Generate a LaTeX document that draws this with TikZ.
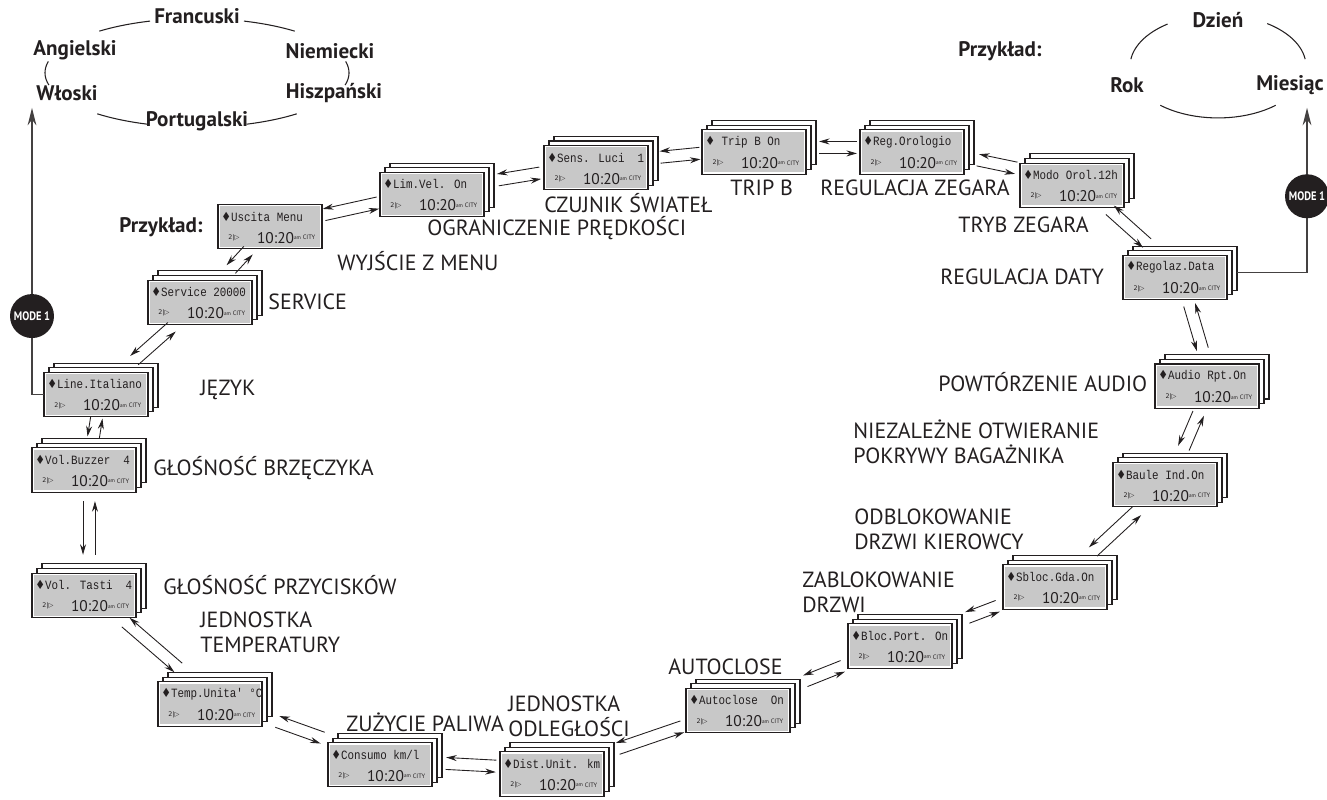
\documentclass[tikz,border=0pt]{standalone}
\usepackage{fontspec}
\setmainfont{PT Sans}
\newfontfamily\lcdfont{Liberation Mono}
\newfontfamily\symfont{DejaVu Sans}
\usetikzlibrary{arrows.meta, calc}
\definecolor{inkblk}{HTML}{231F20}
\definecolor{lcdgray}{HTML}{C8C8C8}

% one display: front card with the stacked sheets behind it
\newcommand{\lcdstack}[5][2]{%
  \begin{scope}[shift={(#3,#4)}]
    \ifnum#1>1\relax \draw[sheet] (-42,-34) rectangle (62,14); \fi
    \ifnum#1>0\relax \draw[sheet] (-47,-29) rectangle (57,19); \fi
    \draw[sheet] (-52,-24) rectangle (52,24);
    \fill[lcdgray] (-50,-22) rectangle (50,22);
    \node[lcdtop] at (-49,-11) {\scalebox{0.86}[1]{{\symfont ♦}#5}};
    \node[lcdtiny] at (-36,12) {{\symfont 2|▷}};
    \node[lcdclock] at (9,12) {10:20\raisebox{2pt}{\fontsize{3}{3}\selectfont am}};
    \node[lcdtiny] at (39,12) {CITY};
    \node[facebox] (#2-face) at (0,0) {};
    \node[stackbox, minimum width={(104+5*#1)*0.02cm},
          minimum height={(48+5*#1)*0.018433cm}] (#2) at ({2.5*#1},{-2.5*#1}) {};
  \end{scope}}

\begin{document}
\begin{tikzpicture}[
    x=0.02cm, y=-0.018433cm,
    >={Stealth[length=6pt, width=3.4pt]},
    every node/.style={text=inkblk},
    sheet/.style={draw=inkblk, line width=0.6pt, fill=white},
    lcdtop/.style={anchor=west, inner sep=0pt, font=\lcdfont\fontsize{7.2}{8}\selectfont},
    lcdtiny/.style={inner sep=0pt, font=\fontsize{3.6}{4}\selectfont},
    lcdclock/.style={inner sep=0pt, font=\fontsize{8.8}{9}\selectfont},
    facebox/.style={minimum width=2.08cm, minimum height=0.885cm, inner sep=0pt},
    stackbox/.style={inner sep=0pt},
    menulbl/.style={anchor=west, align=left, inner sep=0pt,
                    font=\fontsize{12.5}{14.2}\selectfont},
    langlbl/.style={inner sep=0pt, font=\fontsize{12}{13}\selectfont\bfseries},
    ring/.style={draw=inkblk, line width=0.6pt},
    link/.style={->, draw=inkblk, line width=0.5pt},
    modeline/.style={draw=inkblk!85, line width=0.8pt},
    modebadge/.style={circle, fill=inkblk, minimum size=0.88cm, inner sep=0pt,
                      text=white, font=\fontsize{7}{7}\selectfont\bfseries},
  ]

  \useasboundingbox (0,0) rectangle (1327,868);

  % ------------------------------------------------------------
  % language loop (top left)
  % ------------------------------------------------------------
  \node[langlbl] (francuski)   at (197,18)  {Francuski};
  \node[langlbl] (angielski)   at (75,55)   {Angielski};
  \node[langlbl] (niemiecki)   at (330,55)  {Niemiecki};
  \node[langlbl] (wloski)      at (67,101)  {Włoski};
  \node[langlbl] (hiszpanski)  at (334,101) {Hiszpański};
  \node[langlbl] (portugalski) at (197,132) {Portugalski};
  \foreach \s/\e in {108/130, 50/72, 168/193, -13/12, 229/251, 289/311}
    \draw[ring] plot[domain=\s:\e, samples=20] ({197+152*cos(\x)},{79-59*sin(\x)});

  % ------------------------------------------------------------
  % date loop (top right)
  % ------------------------------------------------------------
  \node[langlbl] (przyklad-r) at (1000,55) {Przykład:};
  \node[langlbl] (dzien)   at (1218,22) {Dzień};
  \node[langlbl] (rok)     at (1127,92) {Rok};
  \node[langlbl] (miesiac) at (1290,92) {Miesiąc};
  \foreach \s/\e in {125/172, 8/56, 229/311}
    \draw[ring] plot[domain=\s:\e, samples=20] ({1218+88*cos(\x)},{72-56*sin(\x)});

  \node[langlbl] (przyklad-l) at (161,246) {Przykład:};

  % ------------------------------------------------------------
  % displays, clockwise from the language menu
  % ------------------------------------------------------------
  \lcdstack{line}{96}{428}{Line.Italiano}
  \lcdstack{service}{200}{328}{Service 20000}
  \lcdstack[0]{uscita}{270}{246}{Uscita Menu}
  \lcdstack{limvel}{432}{211}{Lim.Vel. On}
  \lcdstack{sens}{596}{182}{Sens. Luci~~1}
  \lcdstack{trip}{754}{165}{~Trip B On}
  \lcdstack{reg}{912}{165}{Reg.Orologio}
  \lcdstack{modo}{1072}{201}{Modo Orol.12h}
  \lcdstack{resol}{1175}{301}{Regolaz.Data}
  \lcdstack{audio}{1207}{419}{Audio Rpt.On}
  \lcdstack{baule}{1165}{526}{Baule Ind.On}
  \lcdstack{sbloc}{1055}{637}{Sbloc.Gda.On}
  \lcdstack{bloc}{900}{701}{Bloc.Port. On}
  \lcdstack{autoc}{738}{771}{Autoclose~~On}
  \lcdstack{dist}{552}{840}{Dist.Unit. km}
  \lcdstack{consumo}{380}{830}{Consumo km/l}
  \lcdstack{temp}{210}{764}{Temp.Unita' °C}
  \lcdstack{tasti}{84}{646}{Vol. Tasti~~4}
  \lcdstack{buzzer}{84}{510}{Vol.Buzzer~~4}

  % ------------------------------------------------------------
  % labels
  % ------------------------------------------------------------
  \node[menulbl] (t-line)    at (200,423)  {JĘZYK};
  \node[menulbl] (t-service) at (268,327)  {SERVICE};
  \node[menulbl] (t-uscita)  at (337,283)  {WYJŚCIE Z MENU};
  \node[menulbl] (t-limvel)  at (427,248)  {OGRANICZENIE PRĘDKOŚCI};
  \node[menulbl] (t-sens)    at (544,220)  {CZUJNIK ŚWIATEŁ};
  \node[menulbl] (t-trip)    at (730,204)  {TRIP B};
  \node[menulbl] (t-reg)     at (820,204)  {REGULACJA ZEGARA};
  \node[menulbl] (t-modo)    at (958,244)  {TRYB ZEGARA};
  \node[menulbl] (t-resol)   at (940,300)  {REGULACJA DATY};
  \node[menulbl] (t-audio)   at (938,415)  {POWTÓRZENIE AUDIO};
  \node[menulbl] (t-baule)   at (853,479)  {NIEZALEŻNE OTWIERANIE\\POKRYWY BAGAŻNIKA};
  \node[menulbl] (t-sbloc)   at (854,574)  {ODBLOKOWANIE\\DRZWI KIEROWCY};
  \node[menulbl] (t-bloc)    at (802,643)  {ZABLOKOWANIE\\DRZWI};
  \node[menulbl] (t-autoc)   at (668,724)  {AUTOCLOSE};
  \node[menulbl] (t-dist)    at (508,777)  {JEDNOSTKA\\ODLEGŁOŚCI};
  \node[menulbl] (t-consumo) at (346,784)  {ZUŻYCIE PALIWA};
  \node[menulbl] (t-temp)    at (200,686)  {JEDNOSTKA\\TEMPERATURY};
  \node[menulbl] (t-tasti)   at (163,635)  {GŁOŚNOŚĆ PRZYCISKÓW};
  \node[menulbl] (t-buzzer)  at (153,508)  {GŁOŚNOŚĆ BRZĘCZYKA};

  % ------------------------------------------------------------
  % arrow pairs between neighbouring displays
  % ------------------------------------------------------------
  \foreach \a/\b/\gap in {line/service/2pt, service/uscita/1pt, uscita/limvel/1pt,
                          limvel/sens/2pt, sens/trip/1pt, trip/reg/1.5pt,
                          reg/modo/2pt, modo/resol/2pt, resol/audio/3pt,
                          audio/baule/3pt, baule/sbloc/3pt, sbloc/bloc/3pt,
                          bloc/autoc/3pt, autoc/dist/2pt, dist/consumo/2pt,
                          consumo/temp/3pt, temp/tasti/4pt, tasti/buzzer/5pt,
                          buzzer/line/0.5pt}{
    \path let \p1 = ($(\b)-(\a)$) in
      \pgfextra{\pgfmathparse{atan2(\y1,\x1)}\xdef\linkang{\pgfmathresult}};
    \draw[link, shorten >=\gap, shorten <=\gap,
          transform canvas={shift={(\linkang-90:3.4pt)}}] (\a) -- (\b);
    \draw[link, shorten >=\gap, shorten <=\gap,
          transform canvas={shift={(\linkang+90:3.4pt)}}] (\b) -- (\a);
  }

  % ------------------------------------------------------------
  % MODE 1 branches
  % ------------------------------------------------------------
  \coordinate (tipL) at (32,117);
  \coordinate (tipR) at (1307,117);
  \draw[modeline, -{Stealth[length=10pt, width=5pt]}] (line-face.west) -| (tipL);
  \draw[modeline, -{Stealth[length=10pt, width=5pt]}] (resol.east) -| (tipR);
  \node[modebadge] (modeL) at (32,343)  {\scalebox{0.85}[1]{MODE 1}};
  \node[modebadge] (modeR) at (1307,213) {\scalebox{0.85}[1]{MODE 1}};

\end{tikzpicture}
\end{document}
